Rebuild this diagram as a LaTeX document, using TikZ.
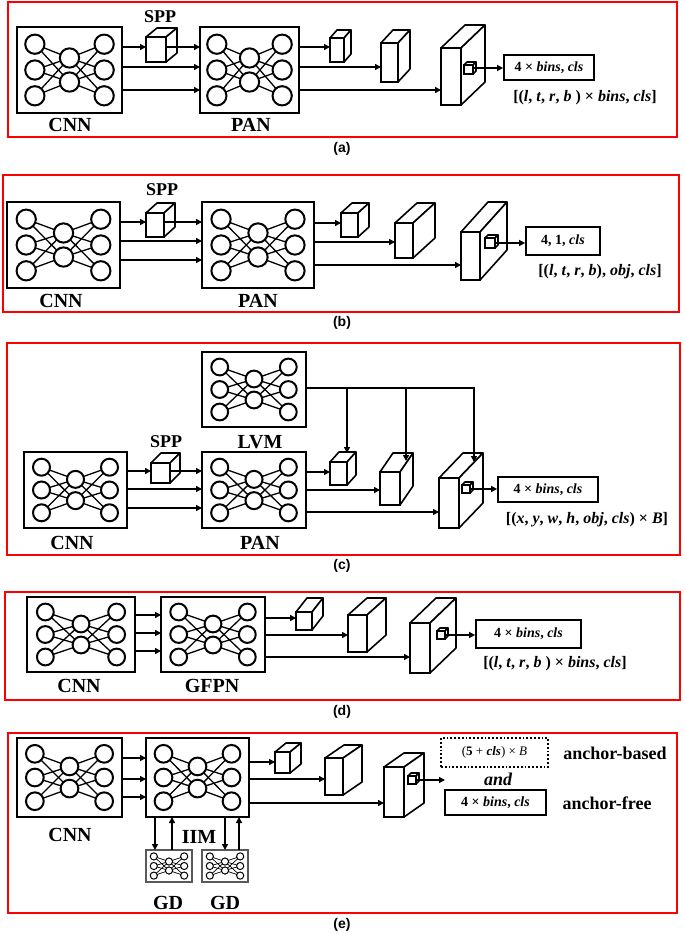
\documentclass[tikz,border=0pt]{standalone}
\usepackage{fontspec}
\setmainfont{Liberation Serif}
\newfontfamily\capfont{Liberation Sans}
\usetikzlibrary{arrows.meta}
\tikzset{
 frame/.style={draw=red,line width=1.4pt},
 netbox/.style={draw,line width=2pt,inner sep=0pt,outer sep=0pt},
 cubef/.style={draw,fill=white,line width=1.6pt,inner sep=0pt,outer sep=0pt},
 face/.style={draw,fill=white,line width=1.6pt,line join=round},
 arr/.style={-{Triangle[length=6pt,width=6pt]},line width=1.6pt},
 ln/.style={line width=1.6pt},
 outbox/.style={draw,line width=1.8pt,inner sep=0pt,font=\fontsize{14}{14}\selectfont\bfseries},
 lbl/.style={font=\fontsize{20}{20}\selectfont\bfseries,inner sep=0pt},
 sublbl/.style={font=\fontsize{16}{16}\selectfont\bfseries,inner sep=0pt},
 captxt/.style={font=\capfont\fontsize{14}{14}\selectfont\bfseries,inner sep=0pt},
}
% #1 name, #2-#5 box, #6 circle line width, #7 link width, #8 box style
\newcommand\netw[8]{%
 \node[netbox,#8,minimum width={(#4-#2)*1pt},minimum height={(#5-#3)*1pt}] (#1) at ({(#2+#4)/2},{(#3+#5)/2}) {};
 \pgfmathsetmacro\wW{#4-#2}\pgfmathsetmacro\hH{#5-#3}\pgfmathsetmacro\rR{0.112*\hH}
 \foreach \i in {0.2,0.5,0.8}{\foreach \j in {0.36,0.64}{
  \draw[line width=#7] ({#2+0.17*\wW},{#3+\i*\hH}) -- ({#2+0.5*\wW},{#3+\j*\hH}) -- ({#2+0.83*\wW},{#3+\i*\hH});}}
 \foreach \i in {0.2,0.5,0.8}{
  \draw[line width=#6,fill=white] ({#2+0.17*\wW},{#3+\i*\hH}) circle[radius=\rR];
  \draw[line width=#6,fill=white] ({#2+0.83*\wW},{#3+\i*\hH}) circle[radius=\rR];}
 \foreach \j in {0.36,0.64}{
  \draw[line width=#6,fill=white] ({#2+0.5*\wW},{#3+\j*\hH}) circle[radius=\rR];}
}
% #1 name, #2-#5 front, #6 dx, #7 dy (up)
\newcommand\cub[7]{%
 \node[cubef,minimum width={(#4-#2)*1pt},minimum height={(#5-#3)*1pt}] (#1) at ({(#2+#4)/2},{(#3+#5)/2}) {};
 \draw[face] (#1.north west) -- ++(#6,-#7) -- ++({#4-#2},0) -- (#1.north east) -- cycle;
 \draw[face] (#1.north east) -- ++(#6,-#7) -- ++(0,{#5-#3}) -- (#1.south east) -- cycle;
}
\newcommand\obox[6]{\node[outbox,minimum width={(#4-#2)*1pt},minimum height={(#5-#3)*1pt}] (#1) at ({(#2+#4)/2},{(#3+#5)/2}) {#6};}
\newcommand\bi[1]{\textbf{\textit{#1}}}
\begin{document}
\begin{tikzpicture}[x=1pt,y=-1pt]
\useasboundingbox (0,0) rectangle (685,934);
\fill[white] (0,0) rectangle (685,934);
%%%%% (a)
\draw[frame] (8,2) rectangle (677,137);
\node[captxt] (capA) at (342,149) {(a)};
\netw{cnnA}{17}{27}{122}{113}{2pt}{1.3pt}{}
\node[lbl] (lcnnA) at (70,125) {CNN};
\cub{sppA}{146}{37}{166}{62}{11}{9}
\node[sublbl,font=\fontsize{18}{18}\selectfont\bfseries] (lsppA) at (160,17) {SPP};
\netw{panA}{200}{27}{299}{113}{2pt}{1.3pt}{}
\node[lbl] (lpanA) at (251,125) {PAN};
\cub{c1A}{330}{38}{344}{62}{7}{8}
\cub{c2A}{381}{43}{398}{82}{12}{13}
\cub{c3A}{441}{48}{461}{105}{24}{23}
\cub{iA}{464}{65}{473}{74}{3}{3}
\obox{oA}{504}{55}{594}{80}{4 × \bi{bins}, \bi{cls}}
\node[sublbl] (tA) at (585,98) {[(\bi{l}, \bi{t}, \bi{r}, \bi{b} ) × \bi{bins}, \bi{cls}]};
\draw[arr] (cnnA.east|-0,47) -- (sppA.west|-0,47);
\draw[arr] (sppA.east|-0,47) -- (panA.west|-0,47);
\draw[arr] (cnnA.east|-0,67) -- (panA.west|-0,67);
\draw[arr] (cnnA.east|-0,90) -- (panA.west|-0,90);
\draw[arr] (panA.east|-0,47) -- (c1A.west|-0,47);
\draw[arr] (panA.east|-0,67) -- (c2A.west|-0,67);
\draw[arr] (panA.east|-0,90) -- (c3A.west|-0,90);
\draw[arr] (iA.east|-0,68) -- (oA.west|-0,68);
%%%%% (b)
\draw[frame] (3,175) rectangle (679,312);
\node[captxt] (capB) at (342,323) {(b)};
\netw{cnnB}{7}{202}{120}{288}{2pt}{1.3pt}{}
\node[lbl] (lcnnB) at (61,301) {CNN};
\cub{sppB}{146}{213}{164}{237}{11}{10}
\node[sublbl,font=\fontsize{18}{18}\selectfont\bfseries] (lsppB) at (162,190) {SPP};
\netw{panB}{202}{202}{314}{288}{2pt}{1.3pt}{}
\node[lbl] (lpanB) at (258,301) {PAN};
\cub{c1B}{341}{213}{358}{237}{11}{10}
\cub{c2B}{395}{223}{413}{258}{22}{20}
\cub{c3B}{461}{232}{480}{280}{27}{30}
\cub{iB}{485}{238}{495}{248}{3}{3}
\obox{oB}{526}{227}{600}{255}{4, 1, \bi{cls}}
\node[sublbl] (tB) at (600,272) {[(\bi{l}, \bi{t}, \bi{r}, \bi{b}), \bi{obj}, \bi{cls}]};
\draw[arr] (cnnB.east|-0,222) -- (sppB.west|-0,222);
\draw[arr] (sppB.east|-0,222) -- (panB.west|-0,222);
\draw[arr] (cnnB.east|-0,241) -- (panB.west|-0,241);
\draw[arr] (cnnB.east|-0,260) -- (panB.west|-0,260);
\draw[arr] (panB.east|-0,223) -- (c1B.west|-0,223);
\draw[arr] (panB.east|-0,242) -- (c2B.west|-0,242);
\draw[arr] (panB.east|-0,265) -- (c3B.west|-0,265);
\draw[arr] (iB.east|-0,243) -- (oB.west|-0,243);
%%%%% (c)
\draw[frame] (7,343) rectangle (680,555);
\node[captxt] (capC) at (342,566) {(c)};
\netw{lvmC}{202}{352}{306}{427}{2pt}{1.3pt}{}
\node[lbl] (llvmC) at (260,442) {LVM};
\netw{cnnC}{24}{452}{127}{528}{2pt}{1.3pt}{}
\node[lbl] (lcnnC) at (72,543) {CNN};
\cub{sppC}{151}{463}{170}{483}{10}{10}
\node[sublbl,font=\fontsize{18}{18}\selectfont\bfseries] (lsppC) at (166,442) {SPP};
\netw{panC}{202}{452}{306}{528}{2pt}{1.3pt}{}
\node[lbl] (lpanC) at (260,543) {PAN};
\cub{c1C}{330}{462}{347}{485}{9}{10}
\cub{c2C}{380}{472}{400}{505}{13}{19}
\cub{c3C}{439}{478}{459}{528}{24}{25}
\cub{iC}{462}{485}{470}{493}{3}{3}
\obox{oC}{498}{477}{598}{502}{4 × \bi{bins}, \bi{cls}}
\node[sublbl] (tC) at (587,520) {[(\bi{x}, \bi{y}, \bi{w}, \bi{h}, \bi{obj}, \bi{cls}) × \bi{B}]};
\draw[ln] (lvmC.east|-0,388) -- (474,388);
\draw[arr] (347,387) -- (347,453);
\draw[arr] (406,387) -- (406,461);
\draw[arr] (474,387) -- (474,462);
\draw[arr] (cnnC.east|-0,471) -- (sppC.west|-0,471);
\draw[arr] (sppC.east|-0,471) -- (panC.west|-0,471);
\draw[arr] (cnnC.east|-0,489) -- (panC.west|-0,489);
\draw[arr] (cnnC.east|-0,508) -- (panC.west|-0,508);
\draw[arr] (panC.east|-0,472) -- (c1C.west|-0,472);
\draw[arr] (panC.east|-0,490) -- (c2C.west|-0,490);
\draw[arr] (panC.east|-0,512) -- (c3C.west|-0,512);
\draw[arr] (iC.east|-0,489) -- (oC.west|-0,489);
%%%%% (d)
\draw[frame] (5,592) rectangle (680,700);
\node[captxt] (capD) at (342,712) {(d)};
\netw{cnnD}{27}{597}{135}{672}{2pt}{1.3pt}{}
\node[lbl] (lcnnD) at (79,686) {CNN};
\netw{gfpnD}{161}{597}{265}{672}{2pt}{1.3pt}{}
\node[lbl] (lgfpnD) at (212,686) {GFPN};
\cub{c1D}{296}{612}{312}{630}{11}{14}
\cub{c2D}{348}{615}{367}{652}{19}{17}
\cub{c3D}{410}{623}{430}{673}{26}{25}
\cub{iD}{437}{631}{445}{639}{3}{3}
\obox{oD}{476}{620}{581}{648}{4 × \bi{bins}, \bi{cls}}
\node[sublbl] (tD) at (555,664) {[(\bi{l}, \bi{t}, \bi{r}, \bi{b} ) × \bi{bins}, \bi{cls}]};
\draw[arr] (cnnD.east|-0,615) -- (gfpnD.west|-0,615);
\draw[arr] (cnnD.east|-0,633) -- (gfpnD.west|-0,633);
\draw[arr] (cnnD.east|-0,651) -- (gfpnD.west|-0,651);
\draw[arr] (gfpnD.east|-0,618) -- (c1D.west|-0,618);
\draw[arr] (gfpnD.east|-0,635) -- (c2D.west|-0,635);
\draw[arr] (gfpnD.east|-0,657) -- (c3D.west|-0,657);
\draw[arr] (iD.east|-0,635) -- (oD.west|-0,635);
%%%%% (e)
\draw[frame] (8,733) rectangle (677,913);
\node[captxt] (capE) at (342,925) {(e)};
\netw{cnnE}{17}{738}{122}{817}{2pt}{1.3pt}{}
\node[lbl] (lcnnE) at (70,835) {CNN};
\netw{iimE}{146}{738}{249}{817}{2pt}{1.3pt}{}
\node[lbl] (liimE) at (199,837) {IIM};
\netw{gd1}{146}{850}{192}{882}{1pt}{0.7pt}{draw=black!65,line width=1.2pt}
\netw{gd2}{202}{850}{248}{882}{1pt}{0.7pt}{draw=black!65,line width=1.2pt}
\node[lbl] (lgd1) at (168,903) {GD};
\node[lbl] (lgd2) at (225,903) {GD};
\cub{c1E}{275}{752}{290}{773}{11}{9}
\cub{c2E}{325}{758}{343}{795}{19}{13}
\cub{c3E}{384}{767}{404}{817}{20}{14}
\cub{iE}{408}{776}{416}{784}{3}{3}
\node[outbox,dotted,line width=2pt,minimum width=107pt,minimum height=29pt,font=\fontsize{13}{13}\selectfont] (oE1) at (494.5,752.5) {(\textbf{5} + \bi{cls}) × \textit{B}};
\obox{oE2}{445}{790}{546}{815}{4 × \bi{bins}, \bi{cls}}
\node[sublbl,font=\fontsize{18}{18}\selectfont\bfseries] (tE1) at (615,753) {anchor-based};
\node[sublbl,font=\fontsize{18}{18}\selectfont\bfseries\itshape] (tE2) at (498,779) {and};
\node[sublbl,font=\fontsize{18}{18}\selectfont\bfseries] (tE3) at (607,803) {anchor-free};
\coordinate (eE) at (445,780);
\draw[arr] (cnnE.east|-0,758) -- (iimE.west|-0,758);
\draw[arr] (cnnE.east|-0,779) -- (iimE.west|-0,779);
\draw[arr] (cnnE.east|-0,797) -- (iimE.west|-0,797);
\draw[arr] (iimE.east|-0,762) -- (c1E.west|-0,762);
\draw[arr] (iimE.east|-0,779) -- (c2E.west|-0,779);
\draw[arr] (iimE.east|-0,803) -- (c3E.west|-0,803);
\draw[arr] (iE.east|-0,780) -- (eE);
\draw[arr] (iimE.south-|155,0) -- (gd1.north-|155,0);
\draw[arr] (gd1.north-|172,0) -- (iimE.south-|172,0);
\draw[arr] (iimE.south-|225,0) -- (gd2.north-|225,0);
\draw[arr] (gd2.north-|239,0) -- (iimE.south-|239,0);
\end{tikzpicture}
\end{document}
